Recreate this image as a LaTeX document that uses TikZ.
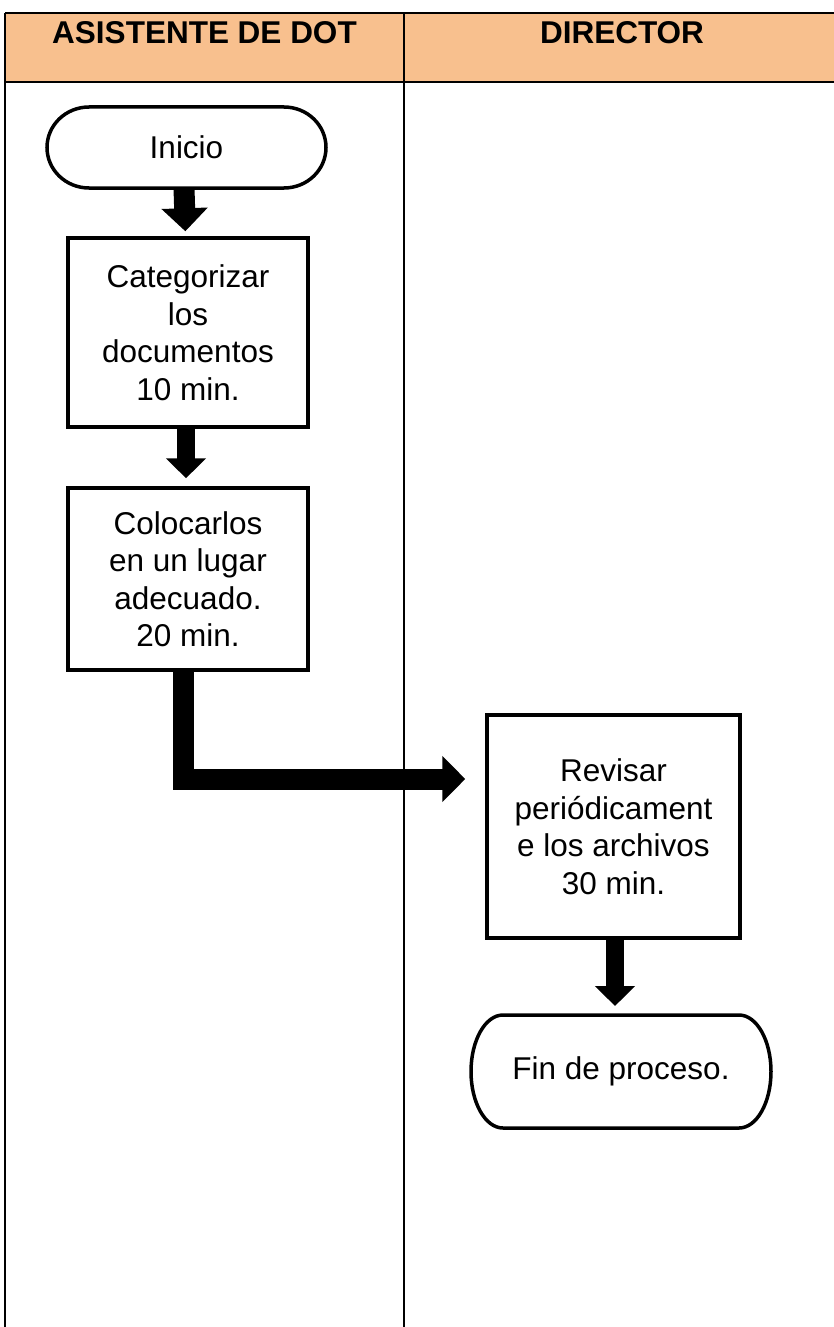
\documentclass[tikz,border=0pt]{standalone}
\usepackage{fontspec}
\setmainfont{Liberation Sans}
\usepackage{xcolor}
\usepackage{tikz}
\usetikzlibrary{arrows.meta,calc,shapes.misc}
\definecolor{Ink}{HTML}{000000}
\definecolor{Peach}{HTML}{F8C08E}
% terminator outline with elliptic ends: node, x radius, y radius
\newcommand{\terminal}[3]{%
  \draw[line width=3.5pt, draw=Ink] ($(#1.north west)+(#2,0)$) -- ($(#1.north east)+(-#2,0)$)
    arc[start angle=90, end angle=-90, x radius=#2pt, y radius=#3pt]
    -- ($(#1.south west)+(#2,0)$)
    arc[start angle=270, end angle=90, x radius=#2pt, y radius=#3pt] -- cycle;}

\begin{document}
\begin{tikzpicture}[
  x=1pt, y=-1pt,
  lane/.style={draw=Ink, line width=1.6pt},
  head/.style={font=\fontsize{31.5}{36}\selectfont\bfseries, anchor=center},
  box/.style={draw=Ink, line width=3.5pt, fill=white, align=center, inner sep=0pt, font=\fontsize{31.5}{37.5}\selectfont},
  term/.style={box, draw=none, rectangle, outer sep=0pt},
  arrow/.style={-{Triangle[width=39pt,length=20pt]}, line width=18pt, draw=Ink, shorten >=8pt},
  bigarrow/.style={-{Triangle[width=45pt,length=23pt]}, line width=21pt, draw=Ink, shorten >=5pt}
]
  \useasboundingbox (0,0) rectangle (833,1327);
  \fill[Peach] (5,13) rectangle (840,82);
  \draw[lane] (5,13) -- (840,13);
  \draw[lane] (5,82) -- (840,82);
  \draw[lane] (5,13) -- (5,1327);
  \draw[lane] (404,13) -- (404,1327);
  \node[head] (asis) at (204.5,33) {ASISTENTE DE DOT};
  \node[head] (dir) at (622,33) {DIRECTOR};

  \node[term, minimum width=279pt, minimum height=81pt] (ini) at (186.5,147.5) {Inicio};
  \node[box, minimum width=240pt, minimum height=189pt] (cat) at (188,332.5) {Categorizar\\los\\documentos\\10 min.};
  \node[box, minimum width=240pt, minimum height=182pt] (col) at (188,579) {Colocarlos\\en un lugar\\adecuado.\\20 min.};
  \node[box, minimum width=253pt, minimum height=223pt] (rev) at (613.5,826.5) {Revisar\\periódicament\\e los archivos\\30 min.};
  \node[term, minimum width=300pt, minimum height=113pt] (fin) at (621,1071.5) {Fin de proceso.};
  \terminal{ini}{42}{40.5}
  \terminal{fin}{32}{56.5}
  \coordinate (codo) at (183,779);

  \draw[bigarrow] ([xshift=-2.5pt]ini.south) -- ([xshift=-2.5pt]cat.north);
  \draw[arrow] ([xshift=-2pt]cat.south) -- ([xshift=-2pt]col.north);
  \draw[bigarrow, shorten >=20pt] ([yshift=2pt]col.south -| codo) -- (codo) -- (codo -| rev.west);
  \draw[arrow, shorten >=9pt] ([xshift=1.5pt]rev.south) -- ([xshift=1.5pt]rev.south |- fin.north);
\end{tikzpicture}
\end{document}
